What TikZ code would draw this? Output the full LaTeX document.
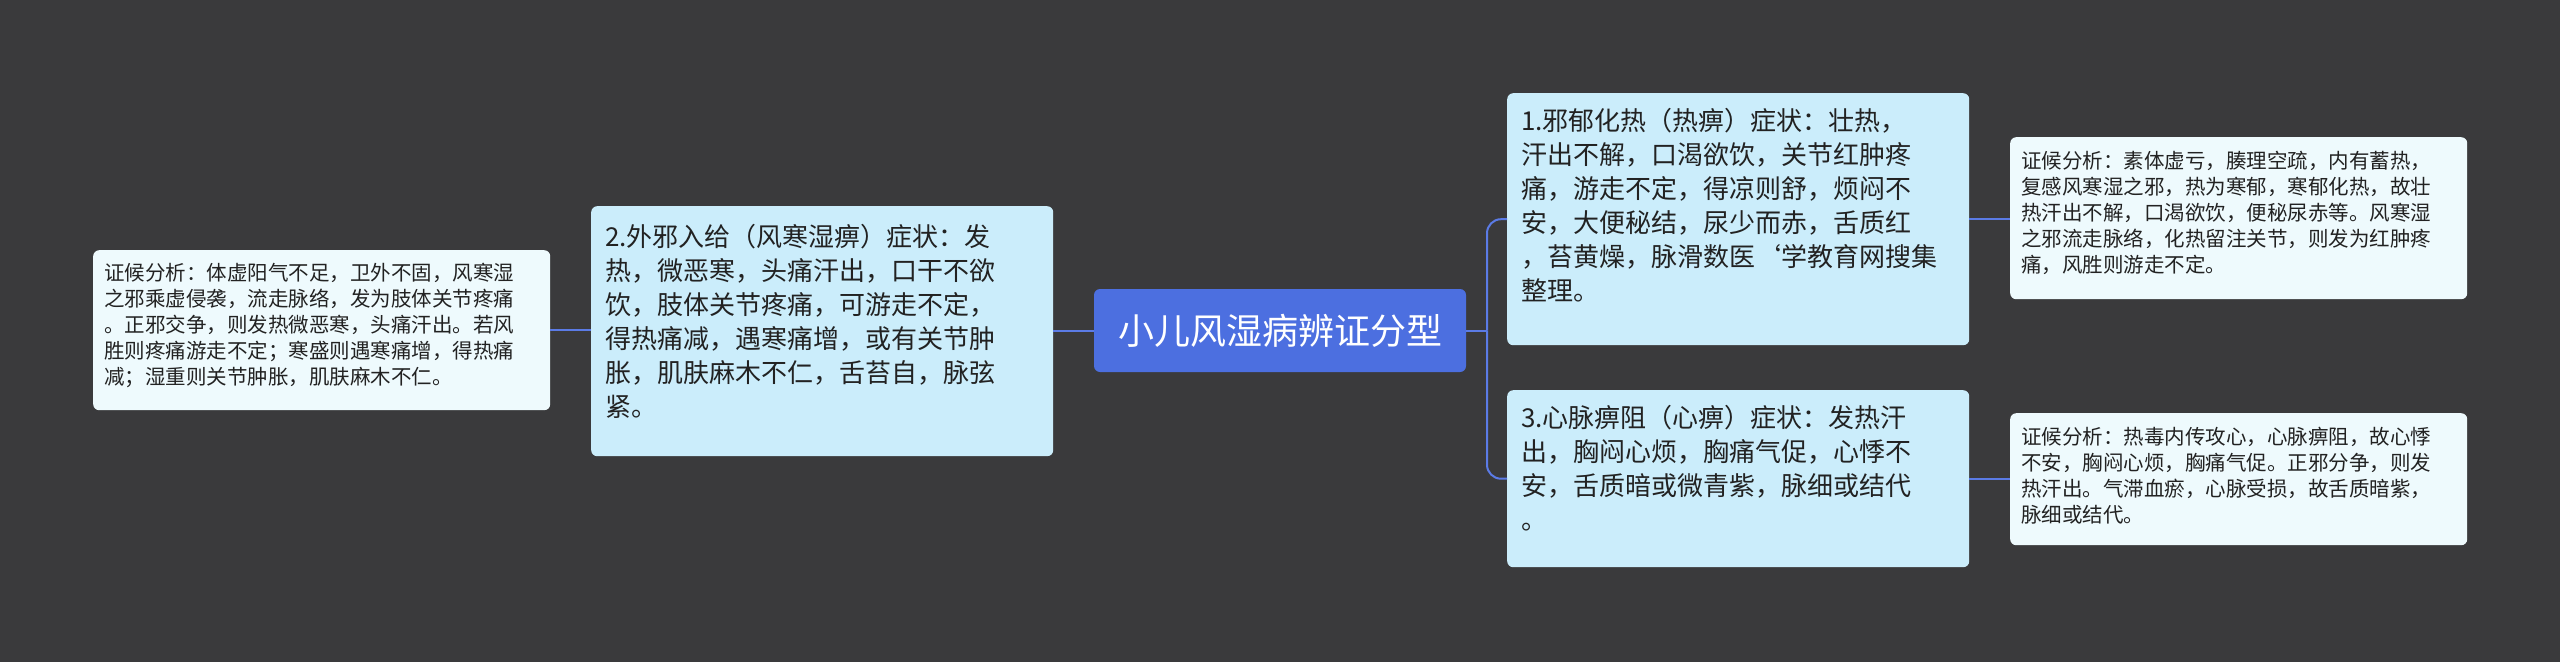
\documentclass[tikz,border=0pt]{standalone}
\usepackage{fontspec}
\setmainfont{Noto Sans CJK SC}
\begin{document}
\begin{tikzpicture}[x=1pt,y=-1pt]
\definecolor{bg}{HTML}{3A3A3C}
\definecolor{mainfill}{HTML}{CBEDFB}
\definecolor{smallfill}{HTML}{EEFAFD}
\definecolor{rootfill}{HTML}{4C6FE0}
\definecolor{linec}{HTML}{5B7BE6}
\definecolor{txt}{HTML}{222222}
\tikzset{
 mainbox/.style={fill=mainfill, rounded corners=6pt, text=txt, font=\fontsize{26}{34}\selectfont, align=left, inner sep=0pt, anchor=north west},
 smallbox/.style={fill=smallfill, rounded corners=6pt, text=txt, font=\fontsize{20.5}{26}\selectfont, align=left, inner sep=0pt, anchor=north west},
 conn/.style={draw=linec, line width=2pt},
}
\fill[bg] (0,0) rectangle (2560,662);
\useasboundingbox (0,0) rectangle (2560,662);
% boxes as rectangles with text
\node[fill=rootfill, rounded corners=6pt, minimum width=372pt, minimum height=83pt, text=white, font=\fontsize{36}{40}\selectfont, inner sep=0pt] (root) at (1280,330.5) {小儿风湿病辨证分型};

\node[mainbox, minimum width=462pt, minimum height=250pt, text width=436pt, text depth=0pt] (L) at (591,206) {};
\node[anchor=north west, align=left, text=txt, font=\fontsize{26}{34}\selectfont, inner sep=0pt, text width=440pt] at (605,224) {2.外邪入给（风寒湿痹）症状：发\\热，微恶寒，头痛汗出，口干不欲\\饮，肢体关节疼痛，可游走不定，\\得热痛减，遇寒痛增，或有关节肿\\胀，肌肤麻木不仁，舌苔自，脉弦\\紧。};

\node[smallbox, minimum width=457pt, minimum height=160pt] (LS) at (93,250) {};
\node[anchor=north west, align=left, text=txt, font=\fontsize{20.5}{26}\selectfont, inner sep=0pt, text width=440pt] at (104,263) {证候分析：体虚阳气不足，卫外不固，风寒湿\\之邪乘虚侵袭，流走脉络，发为肢体关节疼痛\\。正邪交争，则发热微恶寒，头痛汗出。若风\\胜则疼痛游走不定；寒盛则遇寒痛增，得热痛\\减；湿重则关节肿胀，肌肤麻木不仁。};

\node[mainbox, minimum width=462pt, minimum height=252pt] (R1) at (1507,93) {};
\node[anchor=north west, align=left, text=txt, font=\fontsize{26}{34}\selectfont, inner sep=0pt, text width=440pt] at (1521,108) {1.邪郁化热（热痹）症状：壮热，\\汗出不解，口渴欲饮，关节红肿疼\\痛，游走不定，得凉则舒，烦闷不\\安，大便秘结，尿少而赤，舌质红\\，苔黄燥，脉滑数医`学教育网搜集\\整理。};

\node[mainbox, minimum width=462pt, minimum height=177pt] (R2) at (1507,390) {};
\node[anchor=north west, align=left, text=txt, font=\fontsize{26}{34}\selectfont, inner sep=0pt, text width=440pt] at (1521,405) {3.心脉痹阻（心痹）症状：发热汗\\出，胸闷心烦，胸痛气促，心悸不\\安，舌质暗或微青紫，脉细或结代\\。};

\node[smallbox, minimum width=457pt, minimum height=162pt] (R1S) at (2010,137) {};
\node[anchor=north west, align=left, text=txt, font=\fontsize{20.5}{26}\selectfont, inner sep=0pt, text width=440pt] at (2021,151) {证候分析：素体虚亏，腠理空疏，内有蓄热，\\复感风寒湿之邪，热为寒郁，寒郁化热，故壮\\热汗出不解，口渴欲饮，便秘尿赤等。风寒湿\\之邪流走脉络，化热留注关节，则发为红肿疼\\痛，风胜则游走不定。};

\node[smallbox, minimum width=457pt, minimum height=132pt] (R2S) at (2010,413) {};
\node[anchor=north west, align=left, text=txt, font=\fontsize{20.5}{26}\selectfont, inner sep=0pt, text width=440pt] at (2021,427) {证候分析：热毒内传攻心，心脉痹阻，故心悸\\不安，胸闷心烦，胸痛气促。正邪分争，则发\\热汗出。气滞血瘀，心脉受损，故舌质暗紫，\\脉细或结代。};

% connectors
\coordinate (br) at (1487,330.5);
\draw[conn] (root.east) -- (br);
\draw[conn, rounded corners=14pt] (br) |- (R1.west);
\draw[conn, rounded corners=14pt] (br) |- (R2.west);
\draw[conn] (root.west) -- (L.east |- root.west);
\draw[conn] (L.west |- LS.east) -- (LS.east);
\draw[conn] (R1.east) -- (R1.east -| R1S.west);
\draw[conn] (R2.east) -- (R2.east -| R2S.west);
\end{tikzpicture}
\end{document}
